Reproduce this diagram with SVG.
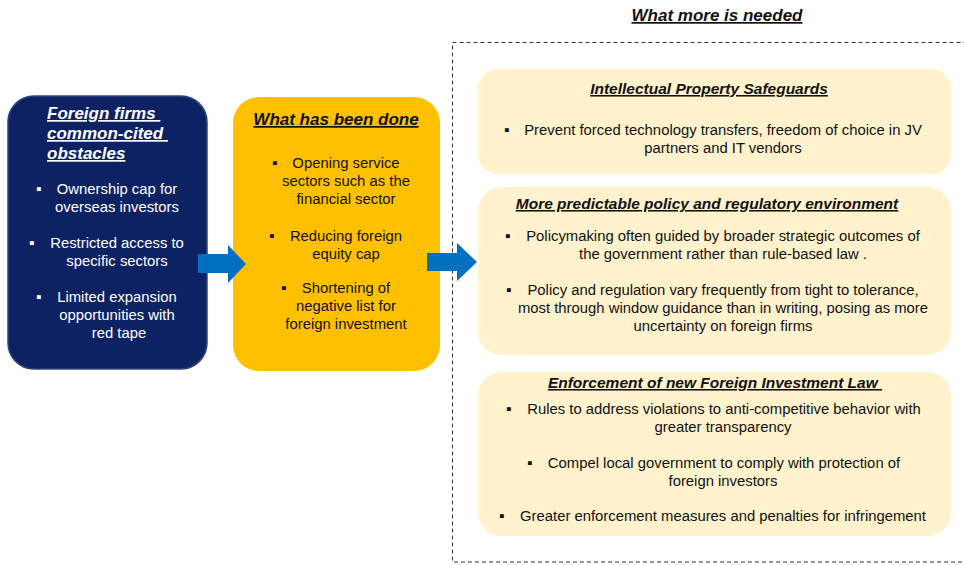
<svg xmlns="http://www.w3.org/2000/svg" width="964" height="565" viewBox="0 0 964 565">
<style>
.t{font-family:"Liberation Sans",Arial,sans-serif;}
.h{font-weight:bold;font-style:italic;text-decoration:underline;white-space:pre;}
.b{font-size:14.85px;text-anchor:middle;}
.bl{font-size:15.5px;}
.w{fill:#ffffff;}
.k{fill:#111111;}
.lb{fill:#FFF2CC;}
.arr{fill:#0070C0;}
</style>
<rect width="964" height="565" fill="#ffffff"/>
<text class="t h k" x="717" y="21" font-size="17" text-anchor="middle">What more is needed</text>
<rect x="452.5" y="42.5" width="520" height="519.5" fill="none" stroke="#333333" stroke-width="1" stroke-dasharray="4 3"/>

<g id="obstacles">
<rect x="8" y="96" width="199" height="273" rx="26" fill="#0C2262" stroke="#34457A" stroke-width="1.5"/>
<text class="t h w" font-size="17"><tspan x="47" y="119">Foreign firms </tspan><tspan x="47" y="139">common-cited </tspan><tspan x="47" y="159">obstacles</tspan></text>
<text class="t bl w" x="36" y="194">▪</text>
<text class="t b w" x="117" y="194">Ownership cap for</text>
<text class="t b w" x="117" y="212">overseas investors</text>
<text class="t bl w" x="29" y="248">▪</text>
<text class="t b w" x="117" y="248">Restricted access to</text>
<text class="t b w" x="117" y="266">specific sectors</text>
<text class="t bl w" x="36" y="302">▪</text>
<text class="t b w" x="117" y="302">Limited expansion</text>
<text class="t b w" x="117" y="320">opportunities with</text>
<text class="t b w" x="119" y="338">red tape</text>
</g>

<g id="done">
<rect x="233" y="97" width="207" height="274" rx="26" fill="#FFC000"/>
<text class="t h k" x="336" y="125" font-size="17" text-anchor="middle">What has been done</text>
<text class="t bl k" x="272" y="168">▪</text>
<text class="t b k" x="346" y="168">Opening service</text>
<text class="t b k" x="346" y="186">sectors such as the</text>
<text class="t b k" x="346" y="204">financial sector</text>
<text class="t bl k" x="269" y="241">▪</text>
<text class="t b k" x="346" y="241">Reducing foreign</text>
<text class="t b k" x="346" y="259">equity cap</text>
<text class="t bl k" x="281" y="293">▪</text>
<text class="t b k" x="346" y="293">Shortening of</text>
<text class="t b k" x="346" y="311">negative list for</text>
<text class="t b k" x="346" y="329">foreign investment</text>
</g>

<g id="ip">
<rect class="lb" x="478" y="69" width="473" height="105" rx="20"/>
<text class="t h k" x="709" y="94" font-size="15.5" text-anchor="middle">Intellectual Property Safeguards</text>
<text class="t bl k" x="504" y="135">▪</text>
<text class="t b k" x="723" y="135">Prevent forced technology transfers, freedom of choice in JV</text>
<text class="t b k" x="723" y="153">partners and IT vendors</text>
</g>

<g id="policy">
<rect class="lb" x="478" y="187" width="473" height="168" rx="24"/>
<text class="t h k" x="707" y="209" font-size="15.5" text-anchor="middle">More predictable policy and regulatory environment</text>
<text class="t bl k" x="505" y="241">▪</text>
<text class="t b k" x="723" y="241">Policymaking often guided by broader strategic outcomes of</text>
<text class="t b k" x="723" y="259">the government rather than rule-based law .</text>
<text class="t bl k" x="506" y="295">▪</text>
<text class="t b k" x="723" y="295">Policy and regulation vary frequently from tight to tolerance,</text>
<text class="t b k" x="723" y="313">most through window guidance than in writing, posing as more</text>
<text class="t b k" x="723" y="331">uncertainty on foreign firms</text>
</g>

<g id="enforcement">
<rect class="lb" x="478" y="372" width="473" height="164" rx="24"/>
<text class="t h k" x="715" y="388" font-size="15.5" text-anchor="middle">Enforcement of new Foreign Investment Law </text>
<text class="t bl k" x="506" y="414">▪</text>
<text class="t b k" x="724" y="414">Rules to address violations to anti-competitive behavior with</text>
<text class="t b k" x="723" y="432">greater transparency</text>
<text class="t bl k" x="527" y="468">▪</text>
<text class="t b k" x="724" y="468">Compel local government to comply with protection of</text>
<text class="t b k" x="723" y="486">foreign investors</text>
<text class="t bl k" x="499" y="521">▪</text>
<text class="t b k" x="723" y="521">Greater enforcement measures and penalties for infringement</text>
</g>

<g id="connectors">
<polygon class="arr" points="198,254 228,254 228,245 246,264 228,283 228,273 198,273"/>
<polygon class="arr" points="427,253 457,253 457,243 477,262 457,281 457,271 427,271"/>
</g>
</svg>
